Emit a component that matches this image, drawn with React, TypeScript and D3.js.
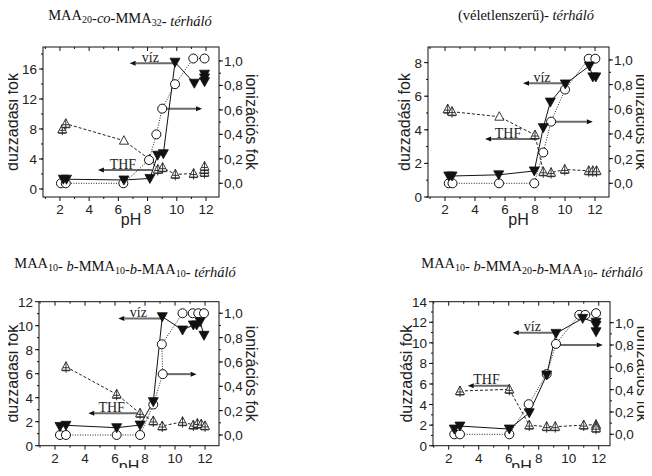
import React from 'react'
import * as d3 from 'd3'

type Pt = [number, number, boolean?]

// panel 1: MAA20-co-MMA32
const p1Water: Pt[] = [[2.23, 1.3], [2.45, 1.3], [6.38, 1.2], [8.16, 1.4], [8.69, 4.5], [9.08, 4.7], [9.88, 16.9], [11.2, 14.1], [11.9, 15.3], [11.9, 14.8], [11.9, 14.3]]
const p1Ion: Pt[] = [[2.07, 0], [2.4, 0], [6.34, 0], [8.1, 0.19], [8.6, 0.4], [9.0, 0.61], [9.88, 0.81], [11.13, 1.02], [11.9, 1.02]]
const p1Thf: Pt[] = [[2.16, 7.96], [2.4, 8.7], [6.38, 6.44, true], [8.14, 3.96, true], [8.7, 2.6], [9.03, 2.84], [9.9, 1.95], [11.15, 2.05], [11.9, 2.2], [11.9, 2.6], [11.9, 3.0]]

// panel 2: random network
const p2Water: Pt[] = [[2.25, 1.25], [2.47, 1.25], [5.58, 1.32], [7.95, 1.55], [8.55, 4.13], [9.02, 5.65], [10.02, 6.73], [11.62, 7.8], [11.85, 7.15], [12.05, 7.15]]
const p2Ion: Pt[] = [[2.25, 0], [2.5, 0], [5.6, 0], [7.95, 0], [8.55, 0.25], [9.07, 0.5], [10.0, 0.76], [11.58, 1.01], [12.02, 1.01]]
const p2Thf: Pt[] = [[2.18, 5.23], [2.47, 5.08], [5.62, 4.78, true], [8.0, 3.69], [8.55, 1.5], [9.07, 1.45], [9.98, 1.64], [11.58, 1.56], [11.85, 1.56], [12.1, 1.56]]

// panel 3: MAA10-b-MMA10-b-MAA10
const p3Water: Pt[] = [[2.33, 1.6], [2.73, 1.7], [6.11, 1.5], [7.67, 1.72], [8.55, 3.67], [9.15, 10.75], [10.5, 9.64], [11.22, 10.06], [11.44, 10.06], [11.67, 10.33], [11.93, 9.2]]
const p3Ion: Pt[] = [[2.33, 0], [2.73, 0], [6.11, 0], [7.67, 0], [8.55, 0.25], [9.18, 0.5], [9.12, 0.745], [10.5, 1.0], [11.18, 1.0], [11.55, 1.0], [11.93, 1.0]]
const p3Thf: Pt[] = [[2.73, 6.58], [6.11, 4.28], [7.67, 2.7], [8.55, 2.06], [9.15, 1.64], [10.5, 2.0], [11.22, 1.72], [11.49, 1.85], [11.75, 1.8], [12.0, 1.65]]

// panel 4: MAA10-b-MMA20-b-MAA10
const p4Water: Pt[] = [[2.37, 1.62], [2.75, 1.91], [6.04, 1.62], [7.37, 3.2], [8.53, 6.87], [9.15, 10.92], [10.93, 12.38], [11.82, 12.0], [11.82, 11.7], [11.82, 11.08]]
const p4Ion: Pt[] = [[2.37, 0], [2.75, 0], [6.04, 0], [7.33, 0.27], [8.53, 0.54], [9.15, 0.81], [10.7, 1.07], [11.1, 1.07], [11.82, 1.085]]
const p4Thf: Pt[] = [[2.75, 5.32], [6.04, 5.48], [7.37, 2.0], [8.53, 1.85], [9.1, 1.85], [11.0, 2.0], [11.82, 2.05], [11.82, 1.9], [11.82, 1.7]]

const xTicks = [2, 4, 6, 8, 10, 12]
const rightTicks = [0, 0.2, 0.4, 0.6, 0.8, 1.0]

const serif = '"Liberation Serif", "Times New Roman", serif'
const sans = '"Liberation Sans", Arial, sans-serif'

// arrows: [y, xFrom, xTo]
type Arrow = [number, number, number]

interface PanelCfg {
  title: React.ReactNode
  titleX: number
  titleY: number
  box: [number, number, number, number] // left, top, right, bottom
  leftTitleX: number
  phY: number
  xDom: [number, number]
  leftDom: [number, number]
  leftTicks: number[]
  rightDom: [number, number]
  water: Pt[]
  ion: Pt[]
  thf: Pt[]
  viz: Arrow
  thfArrow: Arrow
  ionArrow: Arrow
}

const sub = (s: string) => (
  <>
    <tspan dy={3} fontSize={10}>{s}</tspan>
    <tspan dy={-3}></tspan>
  </>
)

const panels: PanelCfg[] = [
  {
    title: <>MAA{sub('20')}-<tspan fontStyle="italic">co</tspan>-MMA{sub('32')}- <tspan fontStyle="italic">térháló</tspan></>,
    titleX: 130, titleY: 20,
    box: [43, 47, 219, 197], leftTitleX: 18, phY: 225,
    xDom: [0.84, 12.89], leftDom: [-1.07, 18.93], leftTicks: [0, 4, 8, 12, 16], rightDom: [-0.112, 1.114],
    water: p1Water, ion: p1Ion, thf: p1Thf,
    viz: [16.76, 9.88, 6.77], thfArrow: [2.53, 8.3, 4.6], ionArrow: [0.61, 9.0, 11.73],
  },
  {
    title: <>(véletlenszerű)- <tspan fontStyle="italic">térháló</tspan></>,
    titleX: 526, titleY: 20,
    box: [428, 47, 609, 197], leftTitleX: 410, phY: 225,
    xDom: [0.867, 12.93], leftDom: [0, 8.93], leftTicks: [0, 2, 4, 6, 8], rightDom: [-0.111, 1.105],
    water: p2Water, ion: p2Ion, thf: p2Thf,
    viz: [6.77, 10.0, 7.2], thfArrow: [3.45, 8.0, 4.67], ionArrow: [0.5, 9.07, 11.85],
  },
  {
    title: <>MAA{sub('10')}- <tspan fontStyle="italic">b</tspan>-MMA{sub('10')}-<tspan fontStyle="italic">b</tspan>-MAA{sub('10')}- <tspan fontStyle="italic">térháló</tspan></>,
    titleX: 125, titleY: 268,
    box: [39, 301.7, 219, 445.7], leftTitleX: 18, phY: 471.5,
    xDom: [0.933, 12.93], leftDom: [0, 12], leftTicks: [0, 2, 4, 6, 8, 10, 12], rightDom: [-0.088, 1.095],
    water: p3Water, ion: p3Ion, thf: p3Thf,
    viz: [10.6, 9.15, 6.22], thfArrow: [2.7, 7.6, 4.22], ionArrow: [0.5, 9.2, 11.44],
  },
  {
    title: <>MAA{sub('10')}- <tspan fontStyle="italic">b</tspan>-MMA{sub('20')}-<tspan fontStyle="italic">b</tspan>-MAA{sub('10')}- <tspan fontStyle="italic">térháló</tspan></>,
    titleX: 532, titleY: 268,
    box: [433, 301.7, 610, 445.7], leftTitleX: 412, phY: 471.5,
    xDom: [0.953, 12.75], leftDom: [0, 14], leftTicks: [0, 2, 4, 6, 8, 10, 12, 14], rightDom: [-0.102, 1.188],
    water: p4Water, ion: p4Ion, thf: p4Thf,
    viz: [10.98, 9.15, 6.27], thfArrow: [5.83, 6.04, 3.27], ionArrow: [0.8, 9.15, 12.27],
  },
]

const fmt = (v: number) => v.toFixed(1).replace('.', ',')

function ArrowMark({ x1, x2, y }: { x1: number; x2: number; y: number }) {
  const dir = x2 < x1 ? -1 : 1
  const head = 6
  return (
    <g>
      <line x1={x1} x2={x2 - dir * head} y1={y} y2={y} stroke="#6a6a6a" strokeWidth={2} />
      <path d={`M${x2},${y} L${x2 - dir * head},${y - 2.5} L${x2 - dir * head},${y + 2.5} Z`} fill="#111" />
    </g>
  )
}

function Panel({ cfg }: { cfg: PanelCfg }) {
  const [L, T, R, B] = cfg.box
  const x = d3.scaleLinear().domain(cfg.xDom).range([L, R])
  const yl = d3.scaleLinear().domain(cfg.leftDom).range([B, T])
  const yr = d3.scaleLinear().domain(cfg.rightDom).range([B, T])

  const lineL = d3.line<Pt>().x(d => x(d[0])).y(d => yl(d[1]))
  const lineR = d3.line<Pt>().x(d => x(d[0])).y(d => yr(d[1]))

  const minorX = d3.range(1, 13)
  const minorL = d3.range(0, cfg.leftDom[1], (cfg.leftTicks[1] - cfg.leftTicks[0]) / 2)
  const minorR = d3.range(0, 1.01, 0.1)
  const cx = (L + R) / 2
  const cy = (T + B) / 2

  const arrowLabel = (a: Arrow, scale: d3.ScaleLinear<number, number>, text: string) => {
    const y = scale(a[0])
    const xm = (x(a[1]) + x(a[2])) / 2 - 2
    return (
      <g>
        <ArrowMark x1={x(a[1])} x2={x(a[2])} y={y} />
        {text && (
          <text x={xm} y={y - 1.5} textAnchor="middle" fontFamily={serif} fontSize={14} fill="#222">{text}</text>
        )}
      </g>
    )
  }

  return (
    <g>
      <text x={cfg.titleX} y={cfg.titleY} textAnchor="middle" fontFamily={serif} fontSize={14.5} fill="#111">{cfg.title}</text>

      {/* frame */}
      <rect x={L} y={T} width={R - L} height={B - T} fill="none" stroke="#111" strokeWidth={1} />

      {/* bottom axis */}
      {minorX.map(v => (
        <g key={'bx' + v}>
          <line x1={x(v)} x2={x(v)} y1={B} y2={B + (v % 2 === 0 ? 4 : 2)} stroke="#111" />
          <line x1={x(v)} x2={x(v)} y1={T} y2={T + (v % 2 === 0 ? 4 : 2)} stroke="#111" />
        </g>
      ))}
      {xTicks.map(v => (
        <text key={'xt' + v} x={x(v)} y={B + 17} textAnchor="middle" fontFamily={sans} fontSize={13.5} fill="#222">{v}</text>
      ))}
      <text x={cx} y={cfg.phY} textAnchor="middle" fontFamily={sans} fontSize={16} fill="#222">pH</text>

      {/* left axis */}
      {minorL.map(v => (
        <line key={'ml' + v} x1={L} x2={L - 2} y1={yl(v)} y2={yl(v)} stroke="#111" />
      ))}
      {cfg.leftTicks.map(v => (
        <g key={'lt' + v}>
          <line x1={L} x2={L - 4} y1={yl(v)} y2={yl(v)} stroke="#111" />
          <text x={L - 6} y={yl(v) + 5} textAnchor="end" fontFamily={sans} fontSize={13.5} fill="#222">{v}</text>
        </g>
      ))}
      <text transform={`translate(${cfg.leftTitleX},${cy}) rotate(-90)`} textAnchor="middle" fontFamily={sans} fontSize={16} fill="#222">duzzadási fok</text>

      {/* right axis */}
      {minorR.map(v => (
        <line key={'mr' + v} x1={R} x2={R + 2} y1={yr(v)} y2={yr(v)} stroke="#111" />
      ))}
      {rightTicks.map(v => (
        <g key={'rt' + v}>
          <line x1={R} x2={R + 4} y1={yr(v)} y2={yr(v)} stroke="#111" />
          <text x={R + 5} y={yr(v) + 5} textAnchor="start" fontFamily={sans} fontSize={13.5} fill="#222">{fmt(v)}</text>
        </g>
      ))}
      <text transform={`translate(${R + 27},${cy}) rotate(90)`} textAnchor="middle" fontFamily={sans} fontSize={16} fill="#222">ionizációs fok</text>

      {/* arrows */}
      {arrowLabel(cfg.viz, yl, 'víz')}
      {arrowLabel(cfg.thfArrow, yl, 'THF')}
      {arrowLabel(cfg.ionArrow, yr, '')}

      {/* lines */}
      <path d={lineL(cfg.thf) || ''} fill="none" stroke="#222" strokeWidth={1} strokeDasharray="3,2" />
      <path d={lineR(cfg.ion) || ''} fill="none" stroke="#222" strokeWidth={1} strokeDasharray="1,1.5" />
      <path d={lineL(cfg.water) || ''} fill="none" stroke="#111" strokeWidth={1} />

      {/* markers */}
      {cfg.thf.map((d, i) => (
        <g key={'th' + i} transform={`translate(${x(d[0])},${yl(d[1])})`}>
          <path d="M0,-5 L4.5,3.5 L-4.5,3.5 Z" fill="#fff" stroke="#222" strokeWidth={0.9} />
          {!d[2] && (
            <path d="M0,-5 L0,6 M-3,1 L3,1 M-4,4 L4,4" stroke="#222" strokeWidth={0.9} fill="none" />
          )}
        </g>
      ))}
      {cfg.ion.map((d, i) => (
        <circle key={'io' + i} cx={x(d[0])} cy={yr(d[1])} r={4.5} fill="#fff" stroke="#111" strokeWidth={1} />
      ))}
      {cfg.water.map((d, i) => (
        <path key={'wa' + i} transform={`translate(${x(d[0])},${yl(d[1])})`} d="M-5,-4 L5,-4 L0,5 Z" fill="#111" stroke="#111" strokeWidth={0.8} />
      ))}
    </g>
  )
}

export default function App() {
  return (
    <svg width={652} height={476} style={{ display: 'block', margin: -8, background: '#fff' }}>
      {panels.map((p, i) => (
        <Panel key={i} cfg={p} />
      ))}
    </svg>
  )
}
